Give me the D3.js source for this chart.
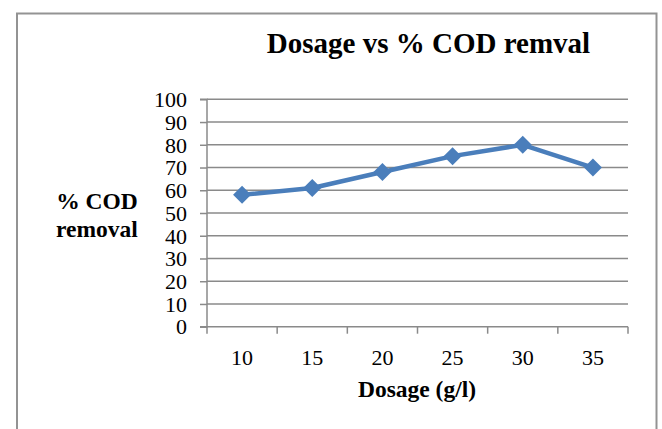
<!DOCTYPE html>
<html><head><meta charset="utf-8">
<script src="https://cdn.jsdelivr.net/npm/d3@7"></script>
<style>body{margin:0;background:#fff}svg{display:block}</style>
</head><body>
<svg id="c" width="662" height="429"></svg>
<script>
const categories = ["10","15","20","25","30","35"];
const removal = [58, 61, 68, 75, 80, 70];
const yTicks = [0,10,20,30,40,50,60,70,80,90,100];
const title = "Dosage vs % COD remval";
const xTitle = "Dosage (g/l)";
const yTitle = ["% COD", "removal"];

const svg = d3.select("#c");
const font = "'Liberation Serif','Times New Roman',serif";
const grey = "#8a8a8a";
const L = 207, R = 628, T = 99.3, B = 326.7;

// outer frame (bottom edge is cut off by the picture)
svg.append("path")
  .attr("d", `M17,440 L17,13.5 L656.5,13.5 L656.5,440`)
  .attr("fill","none").attr("stroke","#939393").attr("stroke-width",2);

const x = d3.scaleBand().domain(categories).range([L, R]).padding(0);
const y = d3.scaleLinear().domain([0,100]).range([B, T]);

// gridlines
svg.append("g").selectAll("line").data(yTicks.filter(d=>d>0)).join("line")
  .attr("x1", L).attr("x2", R).attr("y1", d=>y(d)).attr("y2", d=>y(d))
  .attr("stroke", grey).attr("stroke-width", 1.5);

// y axis
const ya = svg.append("g").attr("transform", `translate(${L},0)`)
  .call(d3.axisLeft(y).tickValues(yTicks).tickSize(7).tickPadding(13));
ya.select(".domain").attr("stroke", grey).attr("stroke-width",1.5).attr("d", `M-7,${T}H0V${B}H-7`);
ya.selectAll(".tick line").attr("stroke", grey).attr("stroke-width",1.5);
ya.selectAll(".tick text").attr("font-family", font).attr("font-size", 22).attr("fill","#000").attr("dy","0.33em");

// x axis
const xa = svg.append("g").attr("transform", `translate(0,${B})`)
  .call(d3.axisBottom(x).tickSize(0).tickPadding(23));
xa.select(".domain").attr("stroke", grey).attr("stroke-width",1.5).attr("d", `M${L},0H${R}`);
xa.selectAll(".tick text").attr("font-family", font).attr("font-size", 22).attr("fill","#000");
// boundary ticks between categories
const bounds = categories.map(c => x(c)).concat([x(categories[categories.length-1]) + x.bandwidth()]);
svg.append("g").selectAll("line").data(bounds).join("line")
  .attr("x1", d=>d).attr("x2", d=>d).attr("y1", B).attr("y2", B+7)
  .attr("stroke", grey).attr("stroke-width",1.5);

// line
const pts = categories.map((c,i)=>({c, v: removal[i]}));
svg.append("path").datum(pts)
  .attr("d", d3.line().x(d=>x(d.c)+x.bandwidth()/2).y(d=>y(d.v)))
  .attr("fill","none").attr("stroke","#4a7ebb").attr("stroke-width",4.5)
  .attr("stroke-linejoin","round");
const r = 9;
svg.append("g").selectAll("path").data(pts).join("path")
  .attr("transform", d=>`translate(${x(d.c)+x.bandwidth()/2},${y(d.v)})`)
  .attr("d", `M0,${-r}L${r},0L0,${r}L${-r},0Z`)
  .attr("fill","#4a7ebb");

// titles
svg.append("text").attr("x", 428.5).attr("y", 53).attr("text-anchor","middle")
  .attr("font-family", font).attr("font-weight","bold").attr("font-size", 29).text(title);
svg.append("text").attr("x", 417).attr("y", 397).attr("text-anchor","middle")
  .attr("font-family", font).attr("font-weight","bold").attr("font-size", 23.5).text(xTitle);
svg.append("g").selectAll("text").data(yTitle).join("text")
  .attr("x", 97).attr("y", (d,i)=>209 + i*28).attr("text-anchor","middle")
  .attr("font-family", font).attr("font-weight","bold").attr("font-size", 23.5).text(d=>d);
</script>
</body></html>
